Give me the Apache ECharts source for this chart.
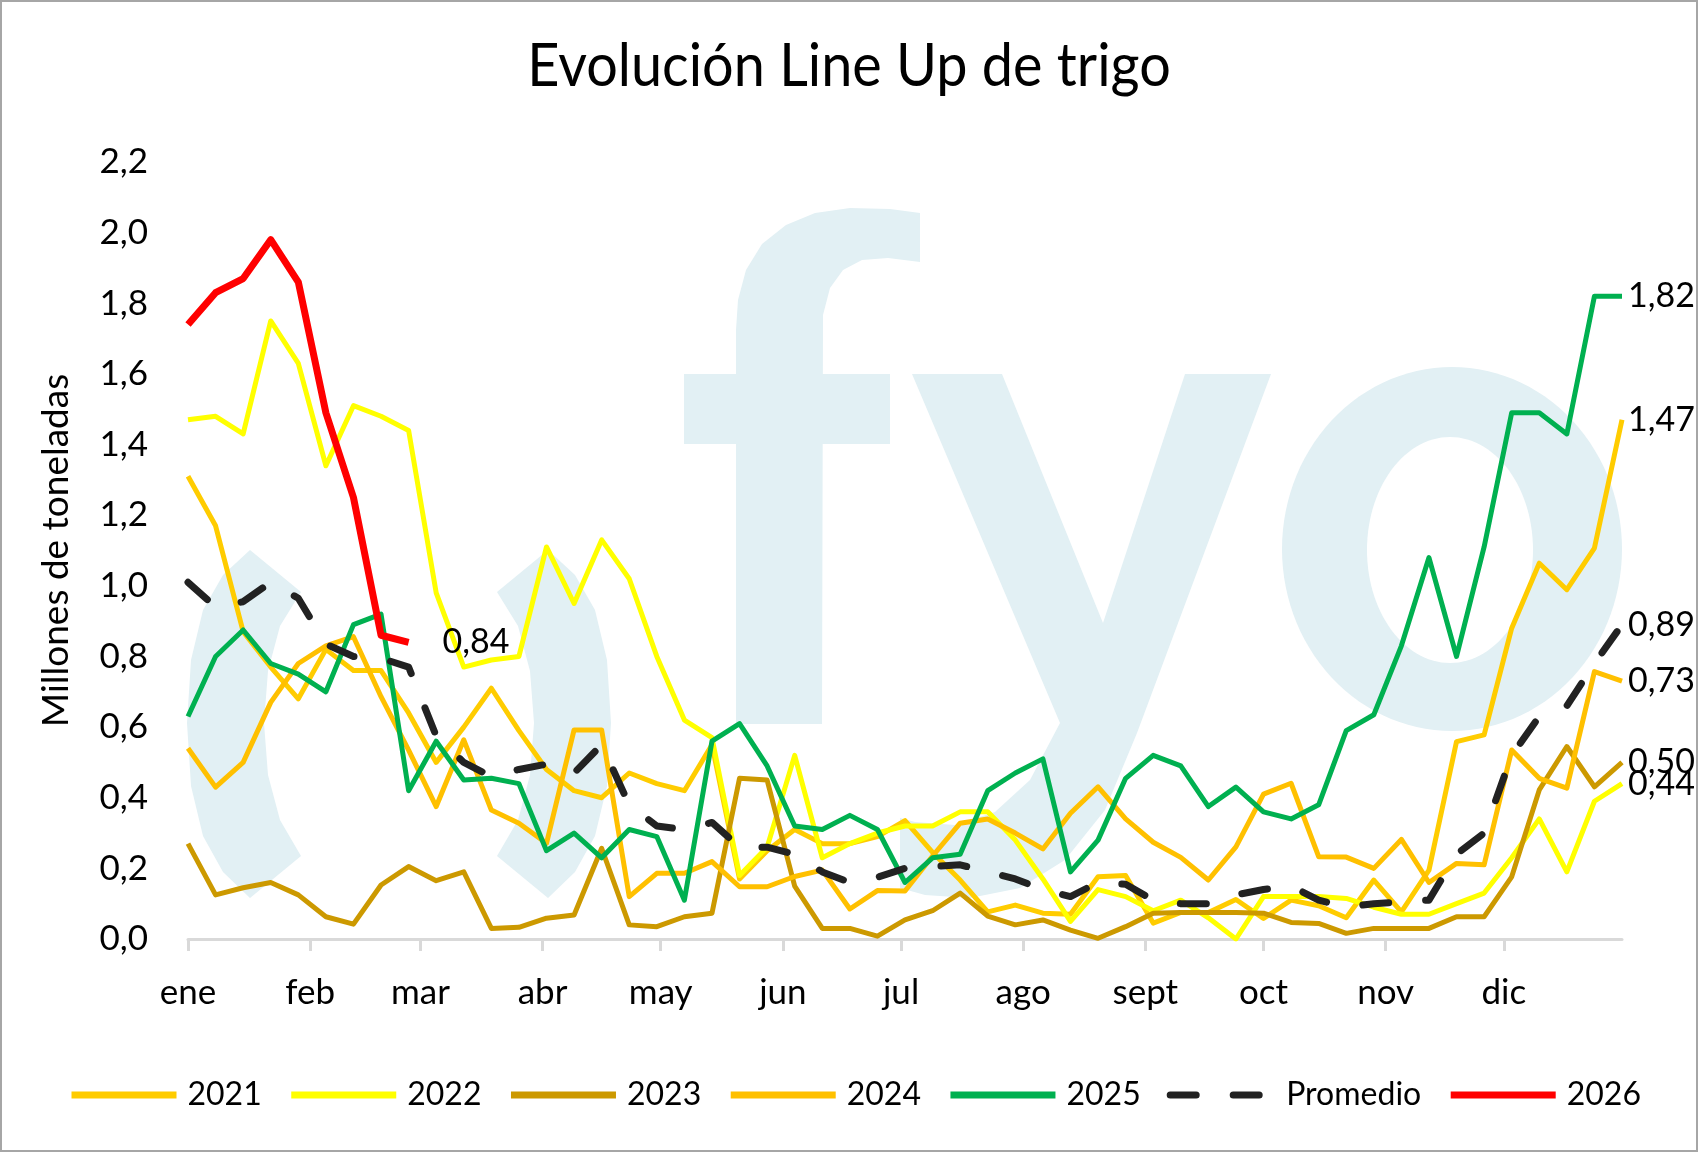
<!DOCTYPE html>
<html><head><meta charset="utf-8">
<script src="https://cdn.jsdelivr.net/npm/echarts@6/dist/echarts.min.js"></script>
<style>html,body{margin:0;padding:0;background:#fff}#main{width:1698px;height:1152px}</style>
</head><body><div id="main"></div>
<script>
// ---- data ----
const months = ['ene','feb','mar','abr','may','jun','jul','ago','sept','oct','nov','dic'];
const monthStartDays = [0,31,59,90,120,151,181,212,243,273,304,334];
const yTicks = [0,0.2,0.4,0.6,0.8,1.0,1.2,1.4,1.6,1.8,2.0,2.2];
const seriesNames = ['2021','2022','2023','2024','2025','Promedio','2026'];

const y2021 = [1.31,1.17,0.87,0.77,0.68,0.82,0.76,0.76,0.64,0.50,
  0.60,0.71,0.59,0.48,0.42,0.40,0.47,0.44,0.42,0.55,
  0.17,0.25,0.31,0.27,0.27,0.29,0.335,0.245,0.167,0.077,
  0.096,0.073,0.07,0.176,0.18,0.045,0.075,0.075,0.112,0.058,
  0.11,0.094,0.06,0.167,0.077,0.195,0.559,0.578,0.88,1.064,
  0.989,1.107,1.47];
const y2022 = [1.47,1.48,1.43,1.75,1.63,1.34,1.51,1.48,1.44,0.98,
  0.77,0.79,0.80,1.11,0.95,1.13,1.02,0.80,0.62,0.57,
  0.18,0.26,0.52,0.23,0.27,0.30,0.32,0.32,0.36,0.36,
  0.28,0.17,0.05,0.14,0.12,0.08,0.11,0.06,0.00,0.12,
  0.12,0.12,0.115,0.09,0.07,0.07,0.10,0.13,0.23,0.34,
  0.19,0.39,0.44];
const y2023 = [0.27,0.125,0.145,0.16,0.125,0.063,0.042,0.153,0.205,0.165,
  0.19,0.03,0.033,0.059,0.068,0.257,0.04,0.035,0.063,0.073,
  0.455,0.45,0.15,0.03,0.03,0.008,0.054,0.08,0.13,0.065,
  0.04,0.054,0.025,0.002,0.035,0.073,0.075,0.075,0.075,0.073,
  0.047,0.044,0.016,0.03,0.03,0.03,0.063,0.063,0.176,0.422,
  0.545,0.431,0.50];
const y2024 = [0.54,0.43,0.50,0.67,0.78,0.83,0.856,0.686,0.535,0.375,
  0.564,0.365,0.328,0.271,0.592,0.592,0.12,0.186,0.186,0.219,
  0.148,0.148,0.177,0.195,0.085,0.137,0.136,0.235,0.328,0.34,
  0.30,0.255,0.356,0.431,0.34,0.274,0.231,0.167,0.261,0.41,
  0.441,0.233,0.232,0.20,0.282,0.16,0.214,0.21,0.535,0.455,
  0.427,0.757,0.73];
const y2025 = [0.63,0.80,0.875,0.78,0.75,0.70,0.89,0.92,0.42,0.56,
  0.45,0.455,0.44,0.25,0.30,0.23,0.31,0.29,0.11,0.56,
  0.61,0.49,0.32,0.31,0.35,0.31,0.16,0.23,0.24,0.42,
  0.47,0.51,0.19,0.28,0.455,0.52,0.49,0.375,0.43,0.36,
  0.34,0.38,0.59,0.635,0.83,1.08,0.80,1.11,1.49,1.49,
  1.43,1.82,1.82];
const yPromedio = [1.01,0.94,0.955,1.01,0.965,0.835,0.80,0.795,0.77,0.575,
  0.50,0.46,0.48,0.495,0.47,0.55,0.38,0.32,0.31,0.33,
  0.26,0.26,0.24,0.19,0.16,0.175,0.20,0.205,0.21,0.19,
  0.17,0.14,0.12,0.16,0.155,0.11,0.10,0.10,0.125,0.14,
  0.15,0.11,0.09,0.10,0.105,0.11,0.24,0.30,0.52,0.63,
  0.66,0.78,0.89];
const y2026 = [1.74,1.83,1.87,1.98,1.86,1.49,1.25,0.86,0.84];

const colors = {'2021':'#FFCC00','2022':'#FFFF00','2023':'#CC9900','2024':'#FFC000','2025':'#00B050','Promedio':'#222222','2026':'#FF0000'};

// ---- helpers ----
const DAYS_PER_WEEK = 7;
const toPairs = arr => arr.map((v, i) => [i * DAYS_PER_WEEK, v]);
const fmt = (v, d) => v.toFixed(d).replace('.', ',');
const FONT = 'Lato';

function ellipsePts(cx, cy, rx, ry, n) {
  const p = [];
  for (let i = 0; i < n; i++) { const a = 2 * Math.PI * i / n; p.push([cx + rx * Math.cos(a), cy + ry * Math.sin(a)]); }
  return p;
}
const WM = '#E2F0F4';
const rightCres = [[548,550],[575,575],[595,610],[607,660],[611,723],[607,786],[595,836],[575,872],[548,898],
                   [497,856],[518,820],[530,775],[534,723],[530,671],[518,626],[497,592]];
const leftCres = rightCres.map(p => [798 - p[0], p[1]]);
const watermark = [
  {type:'polygon', z:0, shape:{points:leftCres}, style:{fill:WM}},
  {type:'polygon', z:0, shape:{points:rightCres}, style:{fill:WM}},
  {type:'polygon', z:0, shape:{points:[[736,724],[736,330],[738,300],[746,270],[762,244],[786,225],[815,213],[850,208],[890,209],[920,213],[920,262],[888,258],[862,260],[843,270],[830,288],[823,315],[822,724]]}, style:{fill:WM}},
  {type:'rect', z:0, shape:{x:684,y:374,width:206,height:70}, style:{fill:WM}},
  {type:'polygon', z:0, shape:{points:[[912,374],[1002,374],[1103,623],[1185,374],[1271,374],[1137,733],[1105,810],[1065,860],[1020,888],[970,898],[925,895],[900,888],[900,818],[915,822],[955,825],[995,812],[1030,780],[1060,723]]}, style:{fill:WM}},
  {type:'polygon', z:0, shape:{points:ellipsePts(1452,549,170,182,120)}, style:{fill:WM}},
  {type:'polygon', z:0, shape:{points:ellipsePts(1450,550,83,113,120)}, style:{fill:'#fff'}},
  {type:'text', z:10, x:849, y:67, scaleX:0.93,
    style:{text:'Evolución Line Up de trigo', fontFamily:FONT, fontSize:60, fill:'#000', align:'center', verticalAlign:'middle'}},
  {type:'rect', z:100, shape:{x:1,y:1,width:1696,height:1150}, style:{fill:'none', stroke:'#a6a6a6', lineWidth:2}}
];

const dataMap = {'2021':y2021,'2022':y2022,'2023':y2023,'2024':y2024,'2025':y2025,'Promedio':yPromedio,'2026':y2026};

const series = seriesNames.map(name => {
  const isAvg = name === 'Promedio';
  const isRed = name === '2026';
  return {
    name, type:'line', symbol:'none', z: isRed ? 6 : (isAvg ? 5 : 3),
    data: toPairs(dataMap[name]),
    lineStyle: {color: colors[name], width: (isAvg || isRed) ? 7 : 5,
      type: isAvg ? [26, 37] : 'solid', cap: isAvg ? 'round' : 'butt', join:'round'},
    itemStyle: {color: colors[name]},
    endLabel: {show: true, formatter: p => fmt(p.value[1], 2), fontFamily: FONT, fontSize: 34,
      color: '#000', distance: isRed ? 34 : 6}
  };
});

const legendData = seriesNames.map(n => n === 'Promedio'
  ? {name: n, textStyle: {padding: [0, 40, 0, 6]}}
  : {name: n});

const chart = echarts.init(document.getElementById('main'), null, {renderer:'canvas'});
chart.setOption({
  animation: false,
  backgroundColor: '#fff',
  grid: {left:188, right:76, top:162, bottom:213},
  xAxis: {type:'value', min:0, max:364,
    axisLine:{show:true, lineStyle:{color:'#D9D9D9', width:3}},
    axisTick:{show:true, customValues: monthStartDays, length:12, lineStyle:{color:'#D9D9D9', width:3}},
    axisLabel:{show:true, customValues: monthStartDays, margin:36, fontFamily:FONT, fontSize:35, color:'#000',
      formatter: v => months[monthStartDays.indexOf(Math.round(v))]},
    splitLine:{show:false}},
  yAxis: {type:'value', min:yTicks[0], max:yTicks[yTicks.length-1], interval:0.2,
    name:'Millones de toneladas', nameLocation:'middle', nameGap:113, nameRotate:90,
    nameTextStyle:{fontFamily:FONT, fontSize:37, color:'#000'},
    axisLine:{show:false}, axisTick:{show:false}, splitLine:{show:false},
    axisLabel:{margin:40, fontFamily:FONT, fontSize:35, color:'#000', formatter: v => fmt(v, 1)}},
  legend: {left:63, top:1074, width:1630, itemWidth:105, itemHeight:14, itemGap:26, data: legendData,
    lineStyle:{width:7},
    itemStyle:{color:'rgba(0,0,0,0)', borderColor:'rgba(0,0,0,0)', borderWidth:0},
    textStyle:{fontFamily:FONT, fontSize:32, color:'#000', padding:[0,0,0,6]}},
  graphic: {elements: watermark},
  series
});
</script></body></html>
